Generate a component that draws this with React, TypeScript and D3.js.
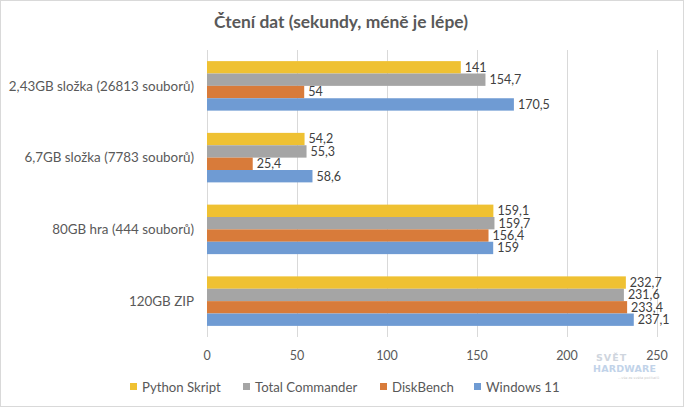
import React from "react";
import * as d3 from "d3";

const categories = [
  "2,43GB složka (26813 souborů)",
  "6,7GB složka (7783 souborů)",
  "80GB hra (444 souborů)",
  "120GB ZIP",
];
const seriesNames = ["Python Skript", "Total Commander", "DiskBench", "Windows 11"];
const seriesColors = ["#EFC132", "#A5A5A5", "#D87B3A", "#6F9BD3"];
const pythonSkript = [141, 54.2, 159.1, 232.7];
const totalCommander = [154.7, 55.3, 159.7, 231.6];
const diskBench = [54, 25.4, 156.4, 233.4];
const windows11 = [170.5, 58.6, 159, 237.1];
const xTicks = [0, 50, 100, 150, 200, 250];

const W = 684;
const H = 407;
const plot = { left: 207, right: 657, top: 50, bottom: 337 };
const font = "Lato, 'Open Sans', sans-serif";

export default function App() {
  const values = [pythonSkript, totalCommander, diskBench, windows11];
  const x = d3.scaleLinear().domain([0, 250]).range([plot.left, plot.right]);
  const y = d3
    .scaleBand<string>()
    .domain(categories)
    .range([plot.top, plot.bottom])
    .paddingInner(0.31)
    .paddingOuter(0.155);
  const inner = d3
    .scaleBand<string>()
    .domain(seriesNames)
    .range([0, y.bandwidth()]);
  const fmt = (v: number) => String(v).replace(".", ",");

  const legendX = [130, 243, 380, 474];

  return (
    <svg
      width={W}
      height={H}
      style={{ position: "absolute", left: 0, top: 0, background: "#fff" }}
    >
      <rect x={0.5} y={0.5} width={W - 1} height={H - 1} fill="#fff" stroke="#D9D9D9" />
      <text
        x={341}
        y={28}
        textAnchor="middle"
        fontFamily={font}
        fontWeight="bold"
        fontSize={17.4}
        fill="#595959"
      >
        Čtení dat (sekundy, méně je lépe)
      </text>
      {xTicks.map((t) => (
        <g key={t}>
          <line
            x1={x(t) + 0.5}
            x2={x(t) + 0.5}
            y1={plot.top}
            y2={plot.bottom}
            stroke="#D9D9D9"
          />
          <text
            x={x(t)}
            y={360}
            textAnchor="middle"
            fontFamily={font}
            fontSize={12.5}
            fill="#595959"
          >
            {t}
          </text>
        </g>
      ))}
      {categories.map((c, ci) => (
        <g key={c}>
          <text
            x={194}
            y={(y(c) as number) + y.bandwidth() / 2}
            dy="0.35em"
            textAnchor="end"
            fontFamily={font}
            fontSize={13.4}
            fill="#595959"
          >
            {c}
          </text>
          {seriesNames.map((s, si) => {
            const v = values[si][ci];
            const by = (y(c) as number) + (inner(s) as number);
            return (
              <g key={s}>
                <rect
                  x={x(0)}
                  y={by}
                  width={x(v) - x(0)}
                  height={inner.bandwidth()}
                  fill={seriesColors[si]}
                />
                <text
                  x={x(v) + 4}
                  y={by + inner.bandwidth() / 2}
                  dy="0.35em"
                  fontFamily={font}
                  fontSize={12.5}
                  fill="#404040"
                >
                  {fmt(v)}
                </text>
              </g>
            );
          })}
        </g>
      ))}
      <g opacity={0.55} fontFamily="'DejaVu Sans', sans-serif" fontWeight="bold">
        <text x={596} y={361} fontSize={9.5} fill="#A8B4C4" letterSpacing={1}>
          SVĚT
        </text>
        <text x={593} y={372} fontSize={9.5} fill="#8FB0D8" letterSpacing={0.2}>
          HARDWARE
        </text>
        <text x={618} y={379} fontSize={3.5} fill="#A0A0A0" fontWeight="normal">
          ...vše ze světa počítačů
        </text>
      </g>
      {seriesNames.map((s, si) => (
        <g key={s}>
          <rect x={legendX[si]} y={383} width={7} height={7} fill={seriesColors[si]} />
          <text
            x={legendX[si] + 12}
            y={387}
            dy="0.35em"
            fontFamily={font}
            fontSize={13.2}
            fill="#595959"
          >
            {s}
          </text>
        </g>
      ))}
    </svg>
  );
}
